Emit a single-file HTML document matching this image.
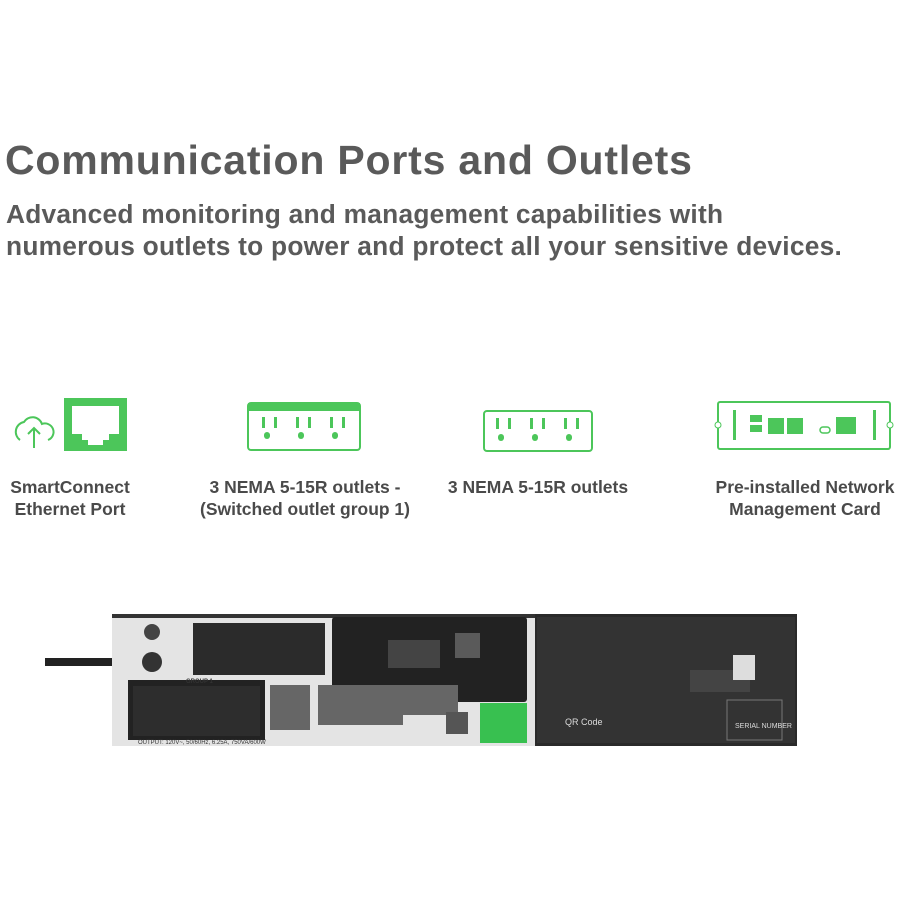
<!DOCTYPE html>
<html><head><style>
body{margin:0;width:900px;height:900px;background:#fff;font-family:"Liberation Sans",Arial,sans-serif;position:relative;overflow:hidden}
.t{position:absolute;left:5px;top:137px;font-size:41px;font-weight:bold;color:#5a5a5a;letter-spacing:0.8px}
.s{position:absolute;left:6px;top:198px;font-size:26.3px;font-weight:bold;color:#5a5a5a;line-height:32px;letter-spacing:0.25px}
.l{position:absolute;font-size:17.5px;font-weight:bold;color:#4a4a4a;text-align:center;line-height:22px}
</style></head><body>
<div class="t">Communication Ports and Outlets</div>
<div class="s">Advanced monitoring and management capabilities with<br>numerous outlets to power and protect all your sensitive devices.</div>
<div class="l" style="left:0;top:476px;width:140px">SmartConnect<br>Ethernet Port</div>
<div class="l" style="left:185px;top:476px;width:240px">3 NEMA 5-15R outlets -<br>(Switched outlet group 1)</div>
<div class="l" style="left:428px;top:476px;width:220px">3 NEMA 5-15R outlets</div>
<div class="l" style="left:695px;top:476px;width:220px">Pre-installed Network<br>Management Card</div>
<svg width="900" height="900" style="position:absolute;left:0;top:0">
<g stroke="#4cc65a" fill="none" stroke-width="2">
<path d="M20 440 a10 10 0 0 1 4-18 a10 10 0 0 1 18 2 a8 8 0 0 1 6 16 M34 448 v-20 M28 434 l6-6 6 6"/>
</g>
<rect x="64" y="398" width="63" height="53" fill="#4cc65a"/>
<path d="M72 406 h47 v28 h-10 v6 h-6 v5 h-15 v-5 h-6 v-6 h-10z" fill="#fff"/>
<rect x="248" y="403" width="112" height="47" rx="3" fill="none" stroke="#4cc65a" stroke-width="2"/>
<rect x="248" y="403" width="112" height="8" fill="#4cc65a"/>
<g fill="#4cc65a">
<rect x="262" y="417" width="3" height="11"/><rect x="274" y="417" width="3" height="11"/><rect x="264" y="432" width="6" height="7" rx="3"/>
<rect x="296" y="417" width="3" height="11"/><rect x="308" y="417" width="3" height="11"/><rect x="298" y="432" width="6" height="7" rx="3"/>
<rect x="330" y="417" width="3" height="11"/><rect x="342" y="417" width="3" height="11"/><rect x="332" y="432" width="6" height="7" rx="3"/>
</g>
<rect x="484" y="411" width="108" height="40" rx="3" fill="none" stroke="#4cc65a" stroke-width="2"/>
<g fill="#4cc65a">
<rect x="496" y="418" width="3" height="11"/><rect x="508" y="418" width="3" height="11"/><rect x="498" y="434" width="6" height="7" rx="3"/>
<rect x="530" y="418" width="3" height="11"/><rect x="542" y="418" width="3" height="11"/><rect x="532" y="434" width="6" height="7" rx="3"/>
<rect x="564" y="418" width="3" height="11"/><rect x="576" y="418" width="3" height="11"/><rect x="566" y="434" width="6" height="7" rx="3"/>
</g>
<rect x="718" y="402" width="172" height="47" rx="2" fill="none" stroke="#4cc65a" stroke-width="2"/>
<g fill="#4cc65a"><rect x="733" y="410" width="3" height="30"/><rect x="873" y="410" width="3" height="30"/>
<rect x="750" y="415" width="12" height="7"/><rect x="750" y="425" width="12" height="7"/>
<rect x="768" y="418" width="16" height="16"/><rect x="787" y="418" width="16" height="16"/>
<rect x="836" y="417" width="20" height="17"/></g>
<rect x="820" y="427" width="10" height="6" rx="3" fill="none" stroke="#4cc65a" stroke-width="1.5"/>
<circle cx="718" cy="425" r="3" fill="#fff" stroke="#4cc65a"/><circle cx="890" cy="425" r="3" fill="#fff" stroke="#4cc65a"/>
<path d="M45 662 H150" stroke="#222" stroke-width="8"/>
<rect x="112" y="614" width="425" height="132" fill="#e4e4e4"/>
<rect x="112" y="614" width="425" height="4" fill="#333"/>
<rect x="535" y="614" width="262" height="132" fill="#2a2a2a"/>
<rect x="537" y="617" width="258" height="126" fill="#333"/>
<rect x="193" y="623" width="132" height="52" fill="#2b2b2b"/>
<rect x="128" y="680" width="137" height="60" fill="#222"/>
<rect x="133" y="686" width="127" height="50" fill="#2d2d2d"/>
<rect x="332" y="617" width="195" height="85" rx="3" fill="#222"/>
<rect x="388" y="640" width="52" height="28" fill="#444"/>
<rect x="455" y="633" width="25" height="25" fill="#5a5a5a"/>
<circle cx="152" cy="632" r="8" fill="#444"/><circle cx="152" cy="662" r="10" fill="#333"/>
<g fill="#666"><rect x="270" y="685" width="40" height="45"/><rect x="318" y="685" width="140" height="30"/><rect x="318" y="715" width="85" height="10"/></g>
<rect x="480" y="703" width="47" height="40" fill="#38c050"/>
<rect x="446" y="712" width="22" height="22" fill="#555"/>
<rect x="690" y="670" width="60" height="22" fill="#444"/>
<rect x="733" y="655" width="22" height="25" fill="#ddd"/>
<rect x="727" y="700" width="55" height="40" fill="none" stroke="#777" stroke-width="1"/>
<g fill="#ddd" font-size="7" font-family="Liberation Sans">
<text x="565" y="725" font-size="9">QR Code</text>
<text x="735" y="728">SERIAL NUMBER</text>
</g>
<g fill="#333" font-size="6" font-family="Liberation Sans">
<text x="138" y="744">OUTPUT: 120V~, 50/60Hz, 6.25A, 750VA/600W</text>
<text x="186" y="683" font-weight="bold">GROUP 1</text>
</g>
</svg>
</body></html>
